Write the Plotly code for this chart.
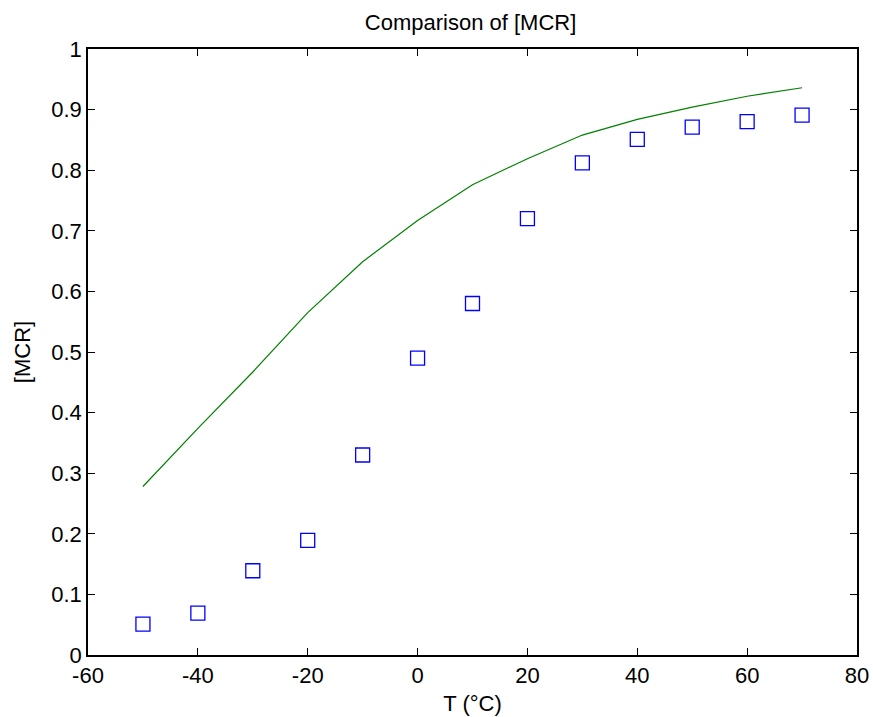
import plotly.graph_objects as go

T = [-50, -40, -30, -20, -10, 0, 10, 20, 30, 40, 50, 60, 70]
mcr_exp = [0.051, 0.069, 0.139, 0.189, 0.330, 0.490, 0.580, 0.720, 0.812, 0.851, 0.871, 0.880, 0.891]
mcr_model = [0.278, 0.374, 0.467, 0.565, 0.649, 0.717, 0.776, 0.819, 0.858, 0.884, 0.904, 0.922, 0.936]

x_ticks = [-60, -40, -20, 0, 20, 40, 60, 80]
x_ticktext = ["-60", "-40", "-20", "0", "20", "40", "60", "80"]
y_ticks = [0, 0.1, 0.2, 0.3, 0.4, 0.5, 0.6, 0.7, 0.8, 0.9, 1]
y_ticktext = ["0", "0.1", "0.2", "0.3", "0.4", "0.5", "0.6", "0.7", "0.8", "0.9", "1"]

fig = go.Figure()
fig.add_trace(go.Scatter(x=T, y=mcr_exp, mode="markers",
                         marker=dict(symbol="square-open", size=14, color="#0000ff",
                                     line=dict(width=1.3, color="#0000ff")),
                         showlegend=False))
fig.add_trace(go.Scatter(x=T, y=mcr_model, mode="lines",
                         line=dict(color="#008000", width=1.2), showlegend=False))

font = dict(family="Liberation Sans, Arial, sans-serif", size=22, color="black")
axis_common = dict(showline=True, linecolor="black", linewidth=1.5, mirror="ticks",
                   ticks="inside", ticklen=7, tickcolor="black", tickwidth=1,
                   showgrid=False, zeroline=False, tickfont=font, automargin=False)

fig.update_layout(
    width=873, height=717,
    margin=dict(l=88, r=16, t=49, b=62),
    paper_bgcolor="white", plot_bgcolor="white",
    title=dict(text="Comparison of [MCR]", x=0.539, xanchor="center", y=0.969, yanchor="middle",
               font=font),
    xaxis=dict(range=[-60, 80], tickvals=x_ticks, ticktext=x_ticktext,
               title=dict(text="T (°C)", font=font, standoff=8), **axis_common),
    yaxis=dict(range=[0, 1], tickvals=y_ticks, ticktext=y_ticktext,
               title=dict(text="[MCR]", font=font, standoff=15), **axis_common),
)

fig.write_html("out.html")
